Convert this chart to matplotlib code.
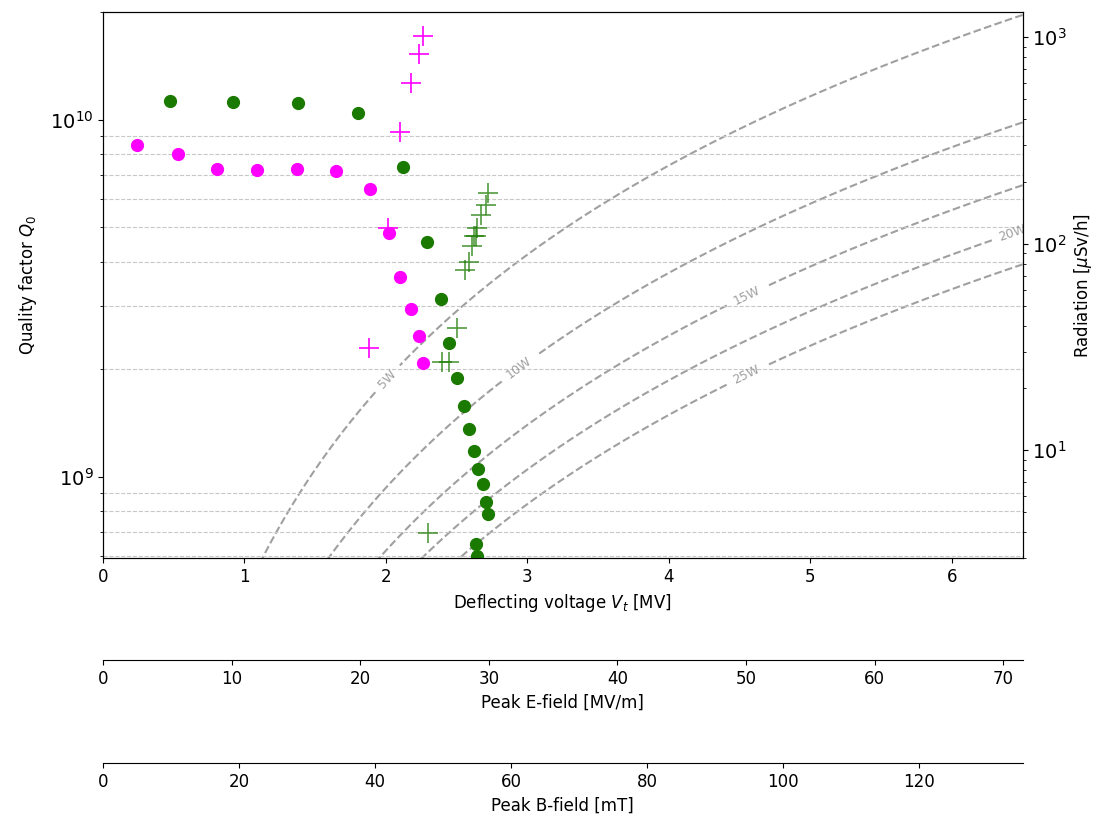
import matplotlib
matplotlib.use('Agg')
import matplotlib.pyplot as plt
import numpy as np

# cavity measurements: deflecting voltage [MV] vs quality factor
v_green = [0.47, 0.92, 1.375, 1.805, 2.12, 2.29, 2.39, 2.447, 2.504, 2.553,
           2.588, 2.623, 2.652, 2.687, 2.708, 2.722, 2.638, 2.645]
q_green = [1.13e10, 1.12e10, 1.11e10, 1.046e10, 7.39e9, 4.55e9, 3.15e9, 2.36e9,
           1.89e9, 1.58e9, 1.355e9, 1.18e9, 1.047e9, 9.5e8, 8.5e8, 7.83e8,
           6.49e8, 5.97e8]

v_mag = [0.24, 0.529, 0.804, 1.086, 1.368, 1.65, 1.89, 2.024, 2.101, 2.179,
         2.236, 2.264]
q_mag = [8.51e9, 8.03e9, 7.29e9, 7.24e9, 7.29e9, 7.19e9, 6.41e9, 4.82e9,
         3.63e9, 2.94e9, 2.47e9, 2.08e9]

# radiation measurements [uSv/h]
v_rad_mag = [2.264, 2.236, 2.179, 2.101, 2.017, 1.883]
rad_mag = [1011, 827, 599, 347, 119, 31.2]

v_rad_green = [2.722, 2.708, 2.673, 2.645, 2.638, 2.623, 2.609, 2.588, 2.56,
               2.504, 2.447, 2.398, 2.299]
rad_green = [176, 154, 137, 119, 109, 109, 97.2, 81.4, 74.4, 39.0, 26.7, 26.7, 3.96]

# dissipated power lines
r_over_q = 430.0   # ohm
power_levels = [5, 10, 15, 20, 25]
label_pos = [(2.01, 1.88e9), (2.94, 2.02e9), (4.55, 3.21e9), (6.43, 4.82e9), (4.55, 1.92e9)]

e_per_mv = 11.0    # MV/m per MV
b_per_mv = 20.8    # mT per MV
e_ticks = [0, 10, 20, 30, 40, 50, 60, 70]
b_ticks = [0, 20, 40, 60, 80, 100, 120]

plt.rcParams['font.size'] = 12

fig = plt.figure(figsize=(10.96, 8.15), dpi=100)
ax = fig.add_axes([0.094, 0.315, 0.839, 0.670])

ax.set_yscale('log')
ax.set_xlim(0, 6.5)
ax.set_ylim(5.9e8, 2.0e10)
ax.tick_params(axis='y', which='major', labelsize=14)

# power contours
vv = np.linspace(0.01, 6.5, 300)
qq = np.logspace(8.7, 10.4, 300)
V, Q = np.meshgrid(vv, qq)
P = (V * 1e6) ** 2 / (r_over_q * Q)
cs = ax.contour(V, Q, P, levels=power_levels, colors='gray', linestyles='--',
                linewidths=1.5, alpha=0.75, zorder=1)
ax.clabel(cs, fmt='%dW', fontsize=9, inline=True, inline_spacing=8, manual=label_pos)

ax.grid(which='minor', axis='y', linestyle='--', color='#c8c8c8', linewidth=0.8)
ax.plot(v_green, q_green, 'o', color='#1a7a00', markersize=8.5, zorder=3)
ax.plot(v_mag, q_mag, 'o', color='magenta', markersize=8.5, zorder=3)

ax.set_xlabel('Deflecting voltage $V_t$ [MV]')
ax.set_ylabel('Quality factor $Q_0$', labelpad=8)

ax2 = ax.twinx()
ax2.set_yscale('log')
ax2.set_ylim(3.0, 1320)
ax2.tick_params(axis='y', which='major', labelsize=14)
ax2.plot(v_rad_mag, rad_mag, '+', color='magenta', markersize=15, markeredgewidth=1.2)
ax2.plot(v_rad_green, rad_green, '+', color='#1a7a00', markersize=15,
         markeredgewidth=1.2, alpha=0.75)
ax2.set_ylabel('Radiation [$\\mu$Sv/h]')

secE = ax.secondary_xaxis(-0.187, functions=(lambda x: x * e_per_mv, lambda x: x / e_per_mv))
secE.set_xticks(e_ticks)
secE.set_xlabel('Peak E-field [MV/m]')
secB = ax.secondary_xaxis(-0.375, functions=(lambda x: x * b_per_mv, lambda x: x / b_per_mv))
secB.set_xticks(b_ticks)
secB.set_xlabel('Peak B-field [mT]')

fig.savefig('out.png', dpi=100)
